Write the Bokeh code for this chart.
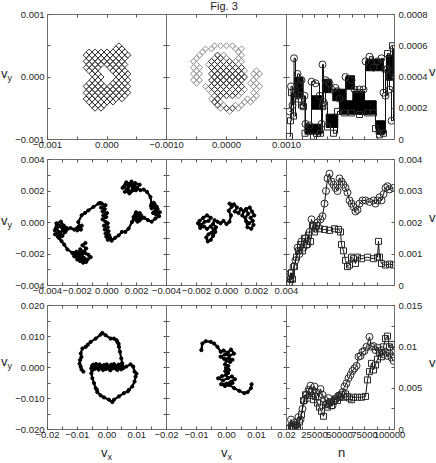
import numpy as np
from bokeh.plotting import figure
from bokeh.layouts import row, column
from bokeh.models import Range1d, LinearAxis, FixedTicker, Div
from bokeh.embed import file_html
from bokeh.resources import INLINE

# ======================= DATA =======================
# Row 1: lattice random walks; 'o'/'x' mark visited lattice sites (vx, vy in lattice units)
lattice_step = 0.00005
r1_left_origin = (-8, 10)          # (ux of first column, uy of first row)
r1_left_mask = [
    "............o....",
    "...........o.o...",
    "..o.o.o.o.o.o.o..",
    ".o.o.o.o.o.o.o.o.",
    "..o.o.o.o.o.o.o..",
    ".o.o.o.o.o.o.o...",
    "..o.o.o.o.o.o.o..",
    ".o.o.o...o.o.o...",
    "..o.o.....o.o.o..",
    "...o.o.....o.o.o.",
    "....o.o.....o.o..",
    "...o.o.....o.o.o.",
    "..o.o.o...o.o.o..",
    ".o.o.o.o.o.o.o.o.",
    "..o.o.o.o.o.o.o..",
    ".o.o.o.o.o.o.o.o.",
    "..o.o.o.o.o.o.o..",
    ".o.o.o.o.o.o.o...",
    "..o.o.o.o.o......",
    "...o.o.o.........",
    "....o.o..........",
]
r1_mid_origin = (-12, 10)
r1_mid_mask = [
    "........o.o.o.o..........",
    ".....o.o.......o.o.......",
    "....o...........o........",
    "...o.....x.o.....o.......",
    "..o.....o.x.o...o........",
    ".o.....x.x.o.x.o.o.......",
    "..o...o.x.x.x.x.o........",
    ".o.o...x.x.x.x.x.x.......",
    "..o.....x.x.x.x.x.o...o..",
    ".o.o...x.x.x.x.x.x...o.o.",
    "..o.....x.x.x.x.x.x...o..",
    ".o.o...x.x.x.x.x.x...o...",
    "..o.....x.x.x.x.x...o.o..",
    ".....o.x.x.x.x.x.x...o.o.",
    "......o.x.x.x.o.x.o...o..",
    ".......o.x.x.o.x.o...o...",
    "........o.x.x.x.o.....o..",
    ".......o.x.........o.o...",
    "........x.o.......o.o....",
    ".........x.o...o.o.......",
    "..........o.x.x.o........",
    ".............o...........",
]

# Row 1 right: v vs n
r1_circ_n = [0, 1500, 3000, 4500, 6000, 8000, 10000, 12000, 13500, 15000, 16000, 20000, 22000, 26000,
             30000, 32000, 33000, 34000, 36000, 40000, 42000, 46000, 50000, 56000, 62000, 65000, 70000,
             74000, 76000, 80000, 84000, 88000, 92000, 94000, 96000, 98000, 100000, 102000, 104000]
r1_circ_v = [0.00018, 0.00034, 0.00022, 0.00052, 0.00030, 0.00042, 0.00035, 0.00038, 0.00022, 0.00028,
             0.00010, 0.00009, 0.00037, 0.00036, 0.00028, 0.00010, 0.00048, 0.00024, 0.00038, 0.00036,
             0.00032, 0.00033, 0.00026, 0.00040, 0.00038, 0.00032, 0.00032, 0.00032, 0.00050, 0.00053,
             0.00046, 0.00050, 0.00052, 0.00030, 0.00028, 0.00045, 0.00032, 0.00012, 0.00058]
r1_sq_n = [0, 1000, 2000, 4000, 6000, 9000, 12000, 14000, 15500, 24000, 31000, 33000, 35000, 38000,
           44000, 48000, 55000, 62000, 70000, 78000, 84000, 86000, 90000, 94000, 96000, 98000, 100000, 103000]
r1_sq_v = [0.00002, 0.00012, 0.00030, 0.00015, 0.00026, 0.00028, 0.00022, 0.00021, 0.00004, 0.00002,
           0.00004, 0.00021, 0.00022, 0.00008, 0.00004, 0.00018, 0.00017, 0.00017, 0.00016, 0.00017,
           0.00017, 0.00007, 0.00003, 0.00004, 0.00045, 0.00055, 0.00040, 0.00060]
# fast-oscillation bands (n from, n to, v low, v high)
r1_band_n0 = [5000, 22000, 15700, 35000, 36700, 43300, 56700, 50000, 63300, 76700, 86700, 97000]
r1_band_n1 = [13500, 32000, 31700, 41700, 48300, 56700, 65000, 86700, 75000, 93300, 95000, 103300]
r1_band_v0 = [0.00027, 0.000194, 0.000034, 0.0003, 0.000077, 0.000248, 0.000322, 0.000162, 0.000237,
              0.00044, 0.000034, 0.00038]
r1_band_v1 = [0.000397, 0.00028, 0.000098, 0.000386, 0.000162, 0.000322, 0.000408, 0.000248, 0.00031,
              0.000514, 0.00012, 0.00054]

# Row 2 trajectories: (vx, vy) in units of 1e-3
r2_left_path = [
    (-1.45, -1.3), (-1.65, -1.45), (-1.4, -1.65), (-1.55, -1.85), (-1.8, -1.7), (-1.6, -1.95), (-1.9, -1.9),
    (-2.1, -2.0), (-1.95, -2.15), (-1.7, -2.05), (-1.45, -1.95), (-1.25, -2.05), (-1.1, -2.2), (-1.3, -2.35),
    (-1.55, -2.25), (-1.75, -2.4), (-1.95, -2.3), (-2.2, -2.15), (-2.3, -1.95), (-2.05, -1.85), (-1.85, -2.1),
    (-1.6, -2.3), (-1.4, -2.5), (-1.6, -2.55), (-1.8, -2.45), (-2.0, -2.35), (-1.75, -2.2), (-2.0, -2.1),
    (-2.32, -1.93), (-2.66, -1.71), (-2.88, -1.40), (-3.06, -1.18), (-3.22, -0.97),
    (-3.3, -0.9), (-3.5, -0.75), (-3.25, -0.6), (-3.45, -0.4), (-3.15, -0.2), (-2.95, -0.45), (-3.2, -0.65),
    (-3.0, -0.85), (-2.8, -0.6), (-3.3, -0.15), (-3.5, -0.5), (-3.4, -0.05), (-3.1, 0.05), (-2.9, -0.2),
    (-2.7, -0.35), (-2.85, -0.55), (-3.05, -0.3), (-3.35, -0.25), (-3.2, -1.0), (-2.95, -0.35),
    (-2.7, -0.45), (-2.45, -0.35), (-2.2, -0.45), (-2.0, -0.35),
    (-1.9, -0.25), (-1.75, -0.45), (-2.0, -0.5), (-1.7, -0.2), (-1.8, -0.35),
    (-1.93, 0.03), (-1.70, 0.46), (-1.48, 0.61), (-1.25, 0.77), (-0.91, 0.99), (-0.57, 1.2), (-0.46, 1.24),
    (-0.35, 1.2), (-0.1, 1.1), (-0.4, 0.95), (-0.15, 0.85), (-0.3, 0.7), (0.0, 0.6), (-0.25, 0.45),
    (-0.05, 0.35), (-0.3, 0.2), (-0.1, 0.05), (0.05, -0.05), (-0.2, -0.2), (0.05, -0.3), (-0.15, -0.45),
    (0.1, -0.55), (-0.1, -0.7), (0.15, -0.8), (-0.05, -0.9), (0.2, -0.95), (0.05, -1.1), (0.25, -1.05),
    (0.3, -1.15),
    (0.33, -1.13), (0.55, -0.97), (0.78, -0.82), (1.00, -0.60), (1.23, -0.60), (1.45, -0.39), (1.68, 0.03),
    (1.79, 0.35),
    (1.9, 0.5), (2.2, 0.6), (2.0, 0.35), (2.3, 0.3), (2.1, 0.1), (1.85, 0.2), (2.05, 0.05), (2.3, 0.45),
    (1.95, 0.65), (2.2, 0.15),
    (2.5, 0.3), (2.75, 0.15), (3.0, 0.05), (3.25, 0.25), (3.5, 0.4), (3.3, 0.5), (3.55, 0.65), (3.2, 0.7),
    (3.4, 0.85), (3.1, 0.6), (3.35, 1.0), (3.0, 0.9), (3.2, 1.15), (2.95, 1.05), (3.15, 1.25), (3.0, 1.2),
    (2.92, 1.62), (2.69, 1.94), (2.47, 2.09),
    (2.25, 2.05), (2.0, 2.2), (2.2, 2.4), (1.9, 2.5), (1.7, 2.3), (1.95, 2.05), (1.6, 1.95), (1.4, 2.1),
    (1.2, 1.95), (1.45, 2.3), (1.25, 2.45), (1.05, 2.2), (1.3, 2.55), (1.55, 2.45), (1.75, 2.15), (1.5, 1.85),
    (1.85, 2.35), (1.65, 2.6), (1.35, 2.0), (1.15, 2.3),
]
r2_mid_path = [
    (-1.8, 0.1), (-1.55, 0.3), (-1.3, 0.45), (-1.05, 0.3), (-1.2, 0.1), (-1.45, 0.05), (-1.7, -0.15),
    (-1.9, -0.05), (-1.75, -0.35), (-1.5, -0.25), (-1.3, -0.4), (-1.05, -0.25), (-0.85, -0.45), (-1.0, -0.65),
    (-1.2, -0.75), (-1.35, -0.95), (-1.25, -1.2), (-1.05, -1.1), (-0.9, -0.85), (-0.75, -0.6), (-0.7, -0.3),
    (-0.9, -0.1), (-0.8, 0.15), (-0.6, 0.05),
    (-0.4, -0.05), (-0.2, 0.1), (0.0, -0.1), (0.2, 0.05),
    (0.3, 0.45), (0.15, 0.75), (0.35, 1.0), (0.2, 1.2), (0.5, 1.15), (0.7, 0.95), (0.55, 0.7), (0.8, 0.6),
    (0.95, 0.85), (1.15, 0.7), (1.05, 0.45), (1.25, 0.3), (1.45, 0.55), (1.3, 0.85), (1.55, 0.95), (1.7, 0.7),
    (1.85, 0.45), (1.6, 0.3), (1.75, 0.1), (1.5, -0.05), (1.3, 0.1), (1.4, -0.3), (1.65, -0.4), (1.8, -0.15),
]
r2_circ_n = [0, 1000, 2500, 4000, 6000, 8000, 10000, 12000, 14000, 16000, 18000, 20000, 22000, 24000, 26000,
             28000, 31000, 33000, 35000, 36500, 38000, 40000, 42000, 44000, 46000, 48000, 50000, 52000, 54000,
             56000, 58000, 60000, 62000, 64000, 66000, 68000, 70000, 73000, 76000, 80000, 84000, 86000, 88000,
             90000, 92000, 94000, 96000, 98000, 100000, 104000]
r2_circ_v = [0.0001, 0.0004, 0.0002, 0.0006, 0.0008, 0.0012, 0.001, 0.0014, 0.0012, 0.0015, 0.0013, 0.0017,
             0.0021, 0.0019, 0.0018, 0.002, 0.0021, 0.0022, 0.0026, 0.003, 0.0034, 0.00355, 0.0033, 0.0032,
             0.0031, 0.003, 0.0034, 0.0033, 0.0032, 0.0031, 0.00295, 0.0027, 0.0026, 0.0025, 0.00235, 0.0024,
             0.0026, 0.0027, 0.0027, 0.00265, 0.0027, 0.0026, 0.0027, 0.0028, 0.0027, 0.0029, 0.0031, 0.00315,
             0.00305, 0.0031]
r2_sq_n = [0, 1000, 2000, 3000, 5000, 7000, 9000, 11000, 13000, 15000, 17000, 19000, 21000, 23000, 25000,
           27000, 30000, 35000, 40000, 45000, 49000, 51000, 52000, 54000, 56000, 58000, 60000, 62000, 64000,
           66000, 68000, 72000, 78000, 84000, 88000, 89000, 90000, 92000, 96000, 100000, 104000]
r2_sq_v = [0.00003, 0.0002, 0.0004, 0.0002, 0.0006, 0.0009, 0.0011, 0.0013, 0.0011, 0.0015, 0.0013, 0.0016,
           0.0014, 0.0019, 0.0017, 0.0019, 0.0018, 0.00178, 0.00175, 0.0018, 0.00178, 0.0017, 0.0013, 0.0011,
           0.0008, 0.0006, 0.00065, 0.0009, 0.00085, 0.0007, 0.0009, 0.00085, 0.0009, 0.00085, 0.0009, 0.0014,
           0.0009, 0.0007, 0.00065, 0.00068, 0.00065]

# Row 3 trajectories: (vx, vy) in units of 1e-3
r3_left_path = [
    (-7.94, -1.33), (-8.6, -0.6), (-8.83, 0.27), (-9.2, 1.2), (-9.05, 2.40), (-8.6, 3.4), (-8.83, 4.53),
    (-8.27, 6.13), (-7.15, 6.67), (-6.4, 7.4), (-5.48, 8.27), (-3.80, 9.33), (-2.13, 10.61), (-1.57, 11.15),
    (-0.45, 10.40), (1.22, 9.33), (2.34, 9.33), (3.2, 8.8), (3.46, 8.27), (3.9, 7.6), (4.02, 6.67),
    (4.35, 5.07), (4.80, 2.93), (5.13, 1.33),
    (5.0, 0.8), (4.4, -0.2), (3.8, 0.9), (3.2, -0.5), (2.6, 0.7), (2.0, -0.3), (1.4, 0.9), (0.8, -0.6),
    (0.2, 0.6), (-0.4, -0.5), (-1.0, 0.8), (-1.6, -0.4), (-2.2, 0.6), (-2.8, -0.7), (-3.4, 0.5), (-4.0, -0.4),
    (-4.6, 0.9), (-5.2, -0.2), (-5.0, 0.6), (-4.3, 0.1), (-3.7, 1.1), (-3.1, 0.0), (-2.5, 1.0), (-1.9, 0.2),
    (-1.3, -0.8), (-0.7, 0.3), (-0.1, 1.0), (0.5, 0.0), (1.1, -0.9), (1.7, 0.4), (2.3, 1.1), (2.9, 0.0),
    (3.5, -0.8), (4.1, 0.5), (4.7, 1.1), (5.3, 0.3), (4.8, -0.6), (4.0, 0.3), (3.0, -0.2), (2.0, 0.6),
    (1.0, -0.2), (0.0, 0.4), (-1.0, -0.3), (-2.0, 0.3), (-3.0, -0.4), (-4.0, 0.5), (-4.8, -0.8), (-5.2, -0.4),
    (-5.26, -1.87), (-4.92, -3.47), (-4.36, -5.07), (-3.80, -6.67), (-3.4, -7.2), (-3.25, -7.95),
    (-2.13, -9.01), (-1.01, -9.65), (0.66, -10.40), (1.78, -11.15), (2.34, -10.40), (4.02, -9.33),
    (5.69, -8.27), (7.0, -7.7), (7.37, -7.20), (8.48, -6.13), (9.27, -4.53), (9.60, -2.93), (9.9, -2.0),
    (9.27, -1.33), (8.82, 0.27), (7.93, 1.01), (6.5, 0.3), (5.5, -0.2),
]
r3_mid_path = [
    (-8.38, 5.60), (-8.05, 7.73), (-6.93, 8.48), (-5.26, 8.27), (-4.14, 7.73), (-3.02, 6.67), (-1.90, 5.07),
    (-1.0, 5.5), (0.5, 4.8), (1.5, 5.8), (2.5, 4.5), (1.0, 3.8), (-0.5, 4.2), (-2.0, 3.5), (-0.8, 2.8),
    (0.8, 3.0), (2.0, 2.5), (1.2, 1.8), (0.0, 2.2),
    (-0.5, 1.0), (0.6, 0.5), (-0.2, -0.2), (0.8, -0.8), (-0.4, -1.2), (0.5, -1.8), (-0.2, -2.4),
    (-1.5, -2.8), (-2.8, -3.5), (-1.2, -4.2), (0.5, -3.4), (1.8, -2.9), (2.8, -3.8), (1.5, -4.6), (0.0, -5.2),
    (-1.8, -5.4), (-0.5, -6.0), (1.0, -5.6), (2.0, -5.0),
    (0.89, -5.6), (2.56, -6.67), (4.24, -7.52), (5.91, -8.27), (7.03, -7.95), (8.15, -6.67), (8.37, -5.39),
]
r3_circ_n = [0, 1500, 3000, 5000, 7000, 9000, 11000, 13000, 15000, 17000, 19000, 21000, 23000, 25000, 27000,
             29000, 31000, 33000, 35000, 37000, 39000, 41000, 43000, 45000, 47000, 49000, 51000, 53000, 55000,
             57000, 59000, 61000, 63000, 65000, 67000, 69000, 71000, 73000, 75000, 77000, 80000, 82000, 84000,
             86000, 88000, 90000, 92000, 94000, 96000, 98000, 100000, 102000, 104000]
r3_circ_v = [0.0002, 0.0012, 0.0003, 0.0008, 0.0005, 0.0015, 0.0012, 0.0025, 0.0035, 0.0042, 0.0048, 0.0053,
             0.0047, 0.0052, 0.0045, 0.004, 0.0049, 0.0042, 0.0036, 0.0031, 0.0038, 0.0033, 0.0029, 0.0035,
             0.0038, 0.0041, 0.0039, 0.0045, 0.0052, 0.0056, 0.0062, 0.0066, 0.0071, 0.0074, 0.0077, 0.0088,
             0.0089, 0.0094, 0.0095, 0.0100, 0.0112, 0.0100, 0.0101, 0.0096, 0.0099, 0.0093, 0.0096, 0.0091,
             0.0094, 0.0089, 0.0092, 0.0087, 0.0083]
r3_sq_n = [0, 2000, 4000, 6000, 8000, 10000, 12000, 14000, 16000, 18000, 20000, 22000, 24000, 26000, 28000,
           30000, 32000, 34000, 36000, 38000, 40000, 42000, 44000, 46000, 48000, 50000, 52000, 54000, 56000,
           58000, 60000, 62000, 64000, 68000, 72000, 76000, 78000, 80000, 82000, 84000, 86000, 88000, 90000,
           92000, 94000, 96000, 98000, 100000, 102000, 104000]
r3_sq_v = [0.0001, 0.0004, 0.0002, 0.0006, 0.0003, 0.0009, 0.0018, 0.0035, 0.0042, 0.0038, 0.0046, 0.0041,
           0.0036, 0.0040, 0.0032, 0.0027, 0.0022, 0.0016, 0.0030, 0.0027, 0.0032, 0.0029, 0.0034, 0.0037,
           0.0035, 0.0040, 0.0042, 0.0039, 0.0043, 0.0040, 0.0038, 0.0036, 0.0039, 0.0039, 0.0039, 0.0040,
           0.0060, 0.0070, 0.0080, 0.0072, 0.0078, 0.0085, 0.0093, 0.0088, 0.0100, 0.0110, 0.0113, 0.0100,
           0.0103, 0.0096]

# tick positions / labels
r1_ticks = [-0.001, 0.0, 0.001]
r1_minor = [-0.0005, 0.0005]
r1_xlab_left = ["\u22120.001", "0.000"]
r1_xlab_mid = ["\u22120.0010", "0.0000", "0.0010"]
r1_ylab = ["\u22120.001", "0.000", "0.001"]
r2_ticks = [-0.004, -0.002, 0.0, 0.002, 0.004]
r2_minor = [-0.003, -0.001, 0.001, 0.003]
r2_xlab = ["\u22120.004", "\u22120.002", "0.000", "0.002", "0.004"]
r2_ylab = ["\u22120.004", "\u22120.002", "0.000", "0.002", "0.004"]
r3_ticks = [-0.02, -0.01, 0.0, 0.01, 0.02]
r3_minor = [-0.015, -0.005, 0.005, 0.015]
r3_xlab = ["\u22120.02", "\u22120.01", "0.00", "0.01", "0.02"]
r3_ylab = ["\u22120.020", "\u22120.010", "0.000", "0.010", "0.020"]
n_ticks = [25000, 50000, 75000, 100000]
n_minor = [12500, 37500, 62500, 87500]
n_labels = ["25000", "50000", "75000", "100000"]
v1_ticks = [0.0, 0.0002, 0.0004, 0.0006, 0.0008]
v1_labels = ["0", "0.0002", "0.0004", "0.0006", "0.0008"]
v2_ticks = [0.0, 0.001, 0.002, 0.003, 0.004]
v2_labels = ["0", "0.001", "0.002", "0.003", "0.004"]
v3_ticks = [0.0, 0.005, 0.01, 0.015]
v3_minor = [0.0025, 0.0075, 0.0125]
v3_labels = ["0", "0.005", "0.01", "0.015"]

# ======================= STYLE / LAYOUT =======================
FONT = "Liberation Sans Narrow, Liberation Sans, Arial, sans-serif"
LFONT = "Liberation Sans, Arial, sans-serif"
FRAME = "#6f6f6f"
TICK = "#555555"
TXT = "#1e1e1e"
L, R, T, B = 46, 42, 14, 33
COL_W = [119, 120, 108]
ROW_H = [125, 126, 124]
M_TOP = [0, -27, -27]
M_LEFT = [1, -88, -88]
N_RANGE = (-3000, 105000)


def make_fig(r, c, xr, yr):
    p = figure(width=L + COL_W[c] + R, height=T + ROW_H[r] + B,
               x_range=Range1d(*xr), y_range=Range1d(*yr),
               x_axis_location=None, y_axis_location=None,
               output_backend="svg", toolbar_location=None,
               min_border_left=L, min_border_right=R, min_border_top=T, min_border_bottom=B,
               margin=(M_TOP[r], 0, 0, M_LEFT[c]),
               background_fill_alpha=0, border_fill_alpha=0,
               outline_line_color=FRAME, outline_line_width=1)
    p.grid.visible = False
    return p


def add_axis(p, side, ticks, minor, labels=None, standoff=3):
    ax = LinearAxis(ticker=FixedTicker(ticks=list(ticks), minor_ticks=list(minor)))
    ax.axis_line_color = None
    ax.major_tick_in = 3
    ax.major_tick_out = 0
    ax.minor_tick_in = 3
    ax.minor_tick_out = 0
    ax.major_tick_line_color = TICK
    ax.minor_tick_line_color = TICK
    ax.major_label_standoff = standoff
    if labels is None:
        ax.major_label_text_font_size = "1px"
        ax.major_label_text_color = None
    else:
        ax.major_label_overrides = {float(t): s for t, s in zip(ticks, labels)}
        ax.major_label_text_font = FONT
        ax.major_label_text_font_size = "9.5px"
        ax.major_label_text_color = TXT
    p.add_layout(ax, side)


def overlay_text(html, left, top, size=13, width=None):
    st = {"position": "absolute", "left": f"{left}px", "top": f"{top}px",
          "font-family": LFONT, "font-size": f"{size}px", "line-height": "1",
          "color": TXT, "white-space": "nowrap", "margin": "0px", "padding": "0px"}
    if width is not None:
        st["width"] = f"{width}px"
        st["text-align"] = "center"
    return Div(text=html, styles=st)


SUB = '<span style="font-size:9px;vertical-align:-3px">{}</span>'


def mask_sites(mask, origin):
    xs, ys, kind = [], [], []
    for i, line in enumerate(mask):
        for j, ch in enumerate(line):
            if ch != ".":
                xs.append((origin[0] + j) * lattice_step)
                ys.append((origin[1] - i) * lattice_step)
                kind.append(ch)
    return np.array(xs), np.array(ys), np.array(kind)


def vxvy_axes(p, ticks, minor, xlabels, ylabels):
    add_axis(p, "below", ticks[:len(xlabels)], minor, xlabels, standoff=2)
    add_axis(p, "above", ticks[1:-1], minor)
    if ylabels is not None:
        add_axis(p, "left", ticks, minor, ylabels, standoff=3)
    else:
        add_axis(p, "left", ticks[1:-1], minor)
    add_axis(p, "right", ticks[1:-1], minor)


def v_axes(p, vt, vminor, vlabels, nlabels):
    add_axis(p, "right", vt, vminor, vlabels, standoff=4)
    add_axis(p, "left", vt[1:-1], vminor)
    add_axis(p, "above", n_ticks[:-1], n_minor)
    if nlabels:
        add_axis(p, "below", n_ticks, n_minor, n_labels, standoff=2)
    else:
        add_axis(p, "below", n_ticks[:-1], n_minor)


def walk(p, path, scale=1e-3):
    x = np.array([q[0] for q in path]) * scale
    y = np.array([q[1] for q in path]) * scale
    p.line(x, y, line_color="black", line_width=2.2)
    p.scatter(x, y, marker="circle", size=3.2, fill_color="black", line_color="black")


def series(p, n, v, marker, size, step=False):
    if step:
        p.step(n, v, mode="after", line_color="#111111", line_width=1)
    else:
        p.line(n, v, line_color="#111111", line_width=1)
    p.scatter(n, v, marker=marker, size=size, fill_color=None, line_color="#2a2a2a", line_width=1)


# ---------------- Row 1 ----------------
f11 = make_fig(0, 0, (-0.001, 0.001), (-0.001, 0.001))
vxvy_axes(f11, r1_ticks, r1_minor, r1_xlab_left, r1_ylab)
x, y, k = mask_sites(r1_left_mask, r1_left_origin)
f11.scatter(x, y, marker="square", angle=np.pi / 4, size=4.2, fill_color=None,
            line_color="#333333", line_width=1)

f12 = make_fig(0, 1, (-0.001, 0.001), (-0.001, 0.001))
vxvy_axes(f12, r1_ticks, r1_minor, r1_xlab_mid, None)
x, y, k = mask_sites(r1_mid_mask, r1_mid_origin)
f12.scatter(x[k == "o"], y[k == "o"], marker="square", angle=np.pi / 4, size=4.2, fill_color=None,
            line_color="#8c8c8c", line_width=1)
f12.scatter(x[k == "x"], y[k == "x"], marker="square", angle=np.pi / 4, size=4.2, fill_color=None,
            line_color="#2a2a2a", line_width=1)

f13 = make_fig(0, 2, N_RANGE, (0, 0.0008))
v_axes(f13, v1_ticks, [], v1_labels, False)
f13.quad(left=r1_band_n0, right=r1_band_n1, bottom=r1_band_v0, top=r1_band_v1,
         fill_color="black", line_color="black")
series(f13, r1_sq_n, r1_sq_v, "square", 6, step=True)
series(f13, r1_circ_n, r1_circ_v, "circle", 7, step=True)

# ---------------- Row 2 ----------------
f21 = make_fig(1, 0, (-0.004, 0.004), (-0.004, 0.004))
vxvy_axes(f21, r2_ticks, r2_minor, r2_xlab[:4], r2_ylab)
walk(f21, r2_left_path)

f22 = make_fig(1, 1, (-0.004, 0.004), (-0.004, 0.004))
vxvy_axes(f22, r2_ticks, r2_minor, r2_xlab, None)
walk(f22, r2_mid_path)

f23 = make_fig(1, 2, N_RANGE, (0, 0.004))
v_axes(f23, v2_ticks, [], v2_labels, False)
series(f23, r2_sq_n, r2_sq_v, "square", 6)
series(f23, r2_circ_n, r2_circ_v, "circle", 7)

# ---------------- Row 3 ----------------
f31 = make_fig(2, 0, (-0.02, 0.02), (-0.02, 0.02))
vxvy_axes(f31, r3_ticks, r3_minor, r3_xlab[:4], r3_ylab)
walk(f31, r3_left_path)

f32 = make_fig(2, 1, (-0.02, 0.02), (-0.02, 0.02))
vxvy_axes(f32, r3_ticks, r3_minor, r3_xlab, None)
walk(f32, r3_mid_path)

f33 = make_fig(2, 2, N_RANGE, (0, 0.015))
v_axes(f33, v3_ticks, v3_minor, v3_labels, True)
series(f33, r3_sq_n, r3_sq_v, "square", 6)
series(f33, r3_circ_n, r3_circ_v, "circle", 7)

# ---------------- titles (real HTML text, absolutely placed) ----------------
texts = [
    overlay_text("Fig. 3", 204, 1, size=11, width=40),
    overlay_text("v" + SUB.format("y"), 1, 67),
    overlay_text("v" + SUB.format("y"), 1, 214),
    overlay_text("v" + SUB.format("y"), 1, 355),
    overlay_text("v" + SUB.format("x"), 101, 446),
    overlay_text("v" + SUB.format("x"), 221, 446),
    overlay_text("n", 338, 446),
    overlay_text("v", 429, 65),
    overlay_text("v", 429, 211),
    overlay_text("v", 429, 356),
]

layout = column(row(f11, f12, f13), row(f21, f22, f23), row(f31, f32, f33), *texts)

with open("out.html", "w") as fh:
    fh.write(file_html(layout, INLINE, title="Fig. 3"))
